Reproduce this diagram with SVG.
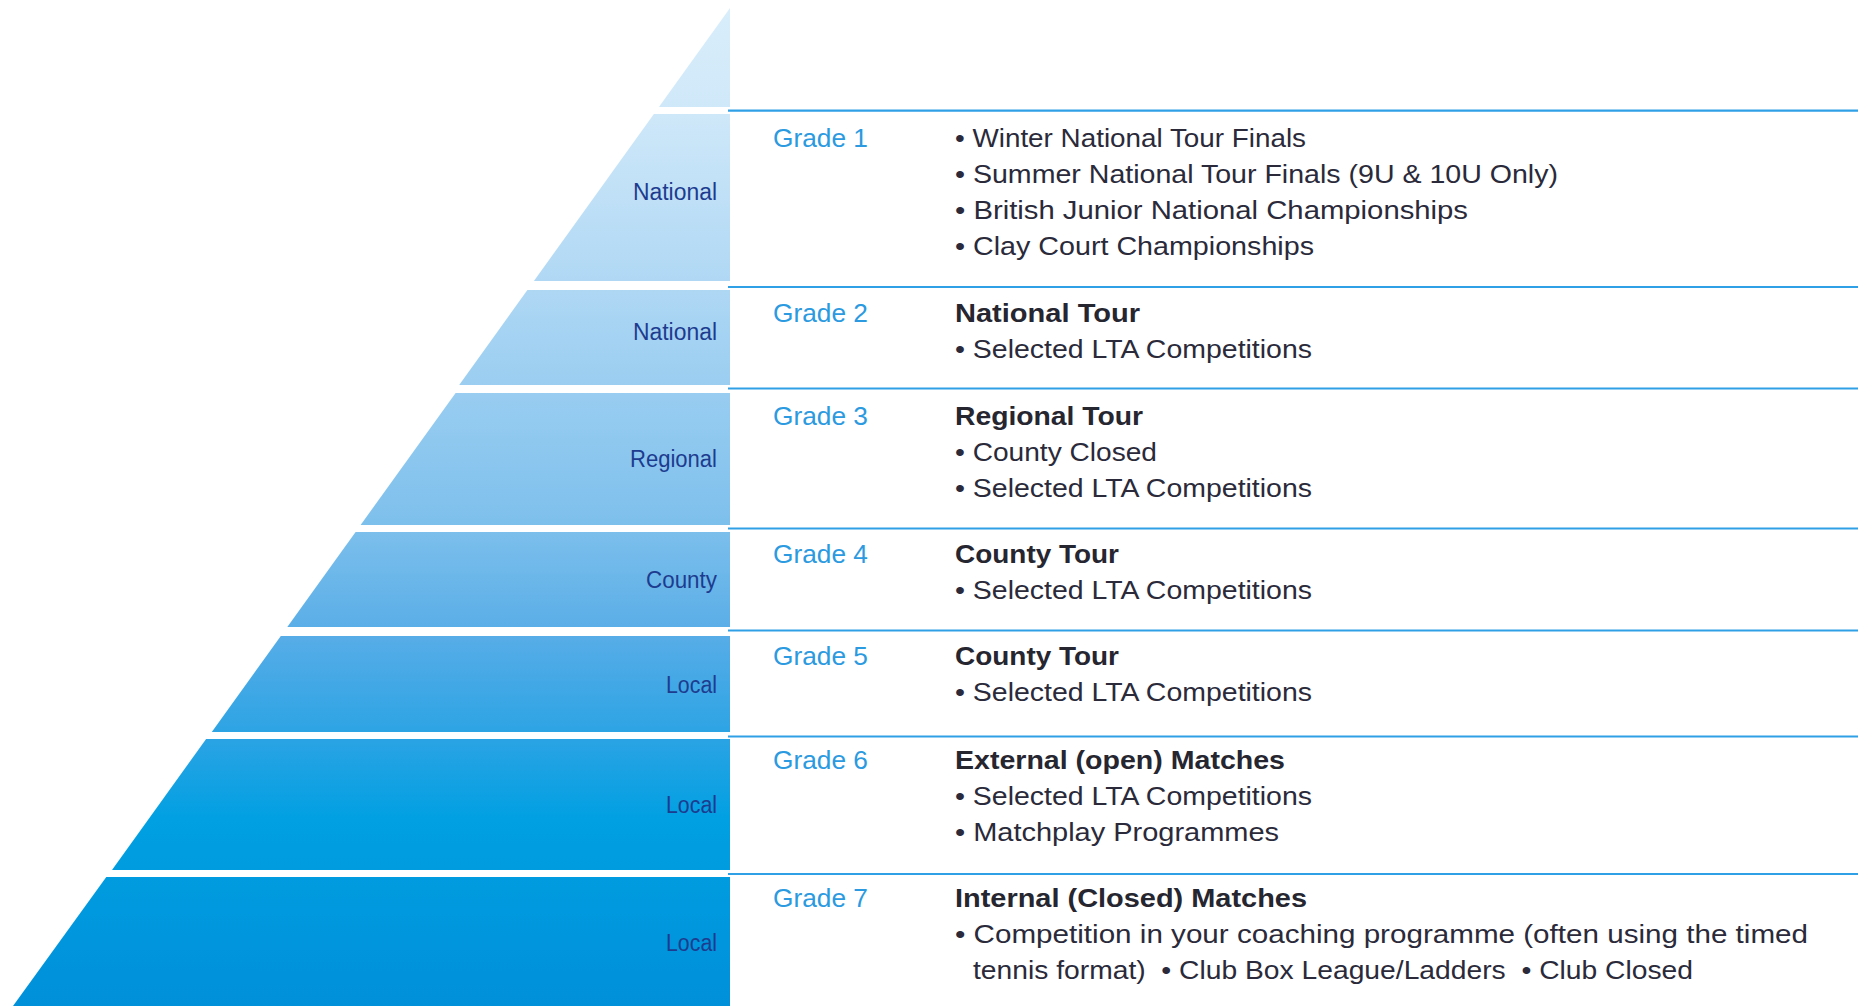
<svg xmlns="http://www.w3.org/2000/svg" width="1861" height="1006" viewBox="0 0 1861 1006">
<style>
text{font-family:"Liberation Sans",Arial,sans-serif}
.lvl{font-size:23.5px;fill:#1d3c8f;text-anchor:end}
.gr{font-size:26px;fill:#2b9ae0}
.hd{font-size:26px;font-weight:bold;fill:#262630}
.bl{font-size:26px;fill:#2a2a3a}
.sep{stroke:#2f9fe6;stroke-width:2.2;fill:none}
</style>
<defs>
<linearGradient id="pg" gradientUnits="userSpaceOnUse" x1="0" y1="0" x2="0" y2="1006">
<stop offset="0" stop-color="#daeefb"/>
<stop offset="0.11" stop-color="#cfe8f9"/>
<stop offset="0.29" stop-color="#aed7f4"/>
<stop offset="0.527" stop-color="#7cbfec"/>
<stop offset="0.63" stop-color="#58ade7"/>
<stop offset="0.735" stop-color="#2aa3e4"/>
<stop offset="0.815" stop-color="#00a0e2"/>
<stop offset="1" stop-color="#0090da"/>
</linearGradient>
</defs>
<rect width="1861" height="1006" fill="#ffffff"/>
<g id="apex"><polygon points="730,8 730,107 658.9,107" fill="url(#pg)"/></g>
<g id="grade1">
<polygon points="653.9,114 730,114 730,281 533.9,281" fill="url(#pg)"/>
<text class="lvl" x="717" y="200" textLength="84" lengthAdjust="spacingAndGlyphs">National</text>
<text class="gr" x="773" y="147" textLength="95" lengthAdjust="spacingAndGlyphs">Grade 1</text>
<text class="bl" x="955" y="147" textLength="351" lengthAdjust="spacingAndGlyphs">• Winter National Tour Finals</text>
<text class="bl" x="955" y="183" textLength="603" lengthAdjust="spacingAndGlyphs">• Summer National Tour Finals (9U &amp; 10U Only)</text>
<text class="bl" x="955" y="219" textLength="513" lengthAdjust="spacingAndGlyphs">• British Junior National Championships</text>
<text class="bl" x="955" y="255" textLength="359" lengthAdjust="spacingAndGlyphs">• Clay Court Championships</text>
</g>
<g id="grade2">
<polygon points="527.4,290 730,290 730,385 459.2,385" fill="url(#pg)"/>
<text class="lvl" x="717" y="340" textLength="84" lengthAdjust="spacingAndGlyphs">National</text>
<text class="gr" x="773" y="322" textLength="95" lengthAdjust="spacingAndGlyphs">Grade 2</text>
<text class="hd" x="955" y="322" textLength="185" lengthAdjust="spacingAndGlyphs">National Tour</text>
<text class="bl" x="955" y="358" textLength="357" lengthAdjust="spacingAndGlyphs">• Selected LTA Competitions</text>
</g>
<g id="grade3">
<polygon points="455.6,393 730,393 730,525 360.6,525" fill="url(#pg)"/>
<text class="lvl" x="717" y="467" textLength="87" lengthAdjust="spacingAndGlyphs">Regional</text>
<text class="gr" x="773" y="425" textLength="95" lengthAdjust="spacingAndGlyphs">Grade 3</text>
<text class="hd" x="955" y="425" textLength="188" lengthAdjust="spacingAndGlyphs">Regional Tour</text>
<text class="bl" x="955" y="461" textLength="202" lengthAdjust="spacingAndGlyphs">• County Closed</text>
<text class="bl" x="955" y="497" textLength="357" lengthAdjust="spacingAndGlyphs">• Selected LTA Competitions</text>
</g>
<g id="grade4">
<polygon points="355.6,532 730,532 730,627 287.3,627" fill="url(#pg)"/>
<text class="lvl" x="717" y="588" textLength="71" lengthAdjust="spacingAndGlyphs">County</text>
<text class="gr" x="773" y="563" textLength="95" lengthAdjust="spacingAndGlyphs">Grade 4</text>
<text class="hd" x="955" y="563" textLength="164" lengthAdjust="spacingAndGlyphs">County Tour</text>
<text class="bl" x="955" y="599" textLength="357" lengthAdjust="spacingAndGlyphs">• Selected LTA Competitions</text>
</g>
<g id="grade5">
<polygon points="280.8,636 730,636 730,732 211.8,732" fill="url(#pg)"/>
<text class="lvl" x="717" y="693" textLength="51" lengthAdjust="spacingAndGlyphs">Local</text>
<text class="gr" x="773" y="665" textLength="95" lengthAdjust="spacingAndGlyphs">Grade 5</text>
<text class="hd" x="955" y="665" textLength="164" lengthAdjust="spacingAndGlyphs">County Tour</text>
<text class="bl" x="955" y="701" textLength="357" lengthAdjust="spacingAndGlyphs">• Selected LTA Competitions</text>
</g>
<g id="grade6">
<polygon points="206.1,739 730,739 730,870 112,870" fill="url(#pg)"/>
<text class="lvl" x="717" y="813" textLength="51" lengthAdjust="spacingAndGlyphs">Local</text>
<text class="gr" x="773" y="769" textLength="95" lengthAdjust="spacingAndGlyphs">Grade 6</text>
<text class="hd" x="955" y="769" textLength="330" lengthAdjust="spacingAndGlyphs">External (open) Matches</text>
<text class="bl" x="955" y="805" textLength="357" lengthAdjust="spacingAndGlyphs">• Selected LTA Competitions</text>
<text class="bl" x="955" y="841" textLength="324" lengthAdjust="spacingAndGlyphs">• Matchplay Programmes</text>
</g>
<g id="grade7">
<polygon points="106.3,877 730,877 730,1006 13,1006" fill="url(#pg)"/>
<text class="lvl" x="717" y="951" textLength="51" lengthAdjust="spacingAndGlyphs">Local</text>
<text class="gr" x="773" y="907" textLength="95" lengthAdjust="spacingAndGlyphs">Grade 7</text>
<text class="hd" x="955" y="907" textLength="352" lengthAdjust="spacingAndGlyphs">Internal (Closed) Matches</text>
<text class="bl" x="955" y="943" textLength="853" lengthAdjust="spacingAndGlyphs">• Competition in your coaching programme (often using the timed</text>
<text class="bl" x="973" y="979" textLength="720" lengthAdjust="spacingAndGlyphs" xml:space="preserve">tennis format)  • Club Box League/Ladders  • Club Closed</text>
</g>
<g id="connectors">
<line class="sep" x1="728" y1="110.7" x2="1858" y2="110.7"/>
<line class="sep" x1="728" y1="287" x2="1858" y2="287"/>
<line class="sep" x1="728" y1="388.5" x2="1858" y2="388.5"/>
<line class="sep" x1="728" y1="528.5" x2="1858" y2="528.5"/>
<line class="sep" x1="728" y1="630.5" x2="1858" y2="630.5"/>
<line class="sep" x1="728" y1="736.5" x2="1858" y2="736.5"/>
<line class="sep" x1="728" y1="874" x2="1858" y2="874"/>
</g>
</svg>
